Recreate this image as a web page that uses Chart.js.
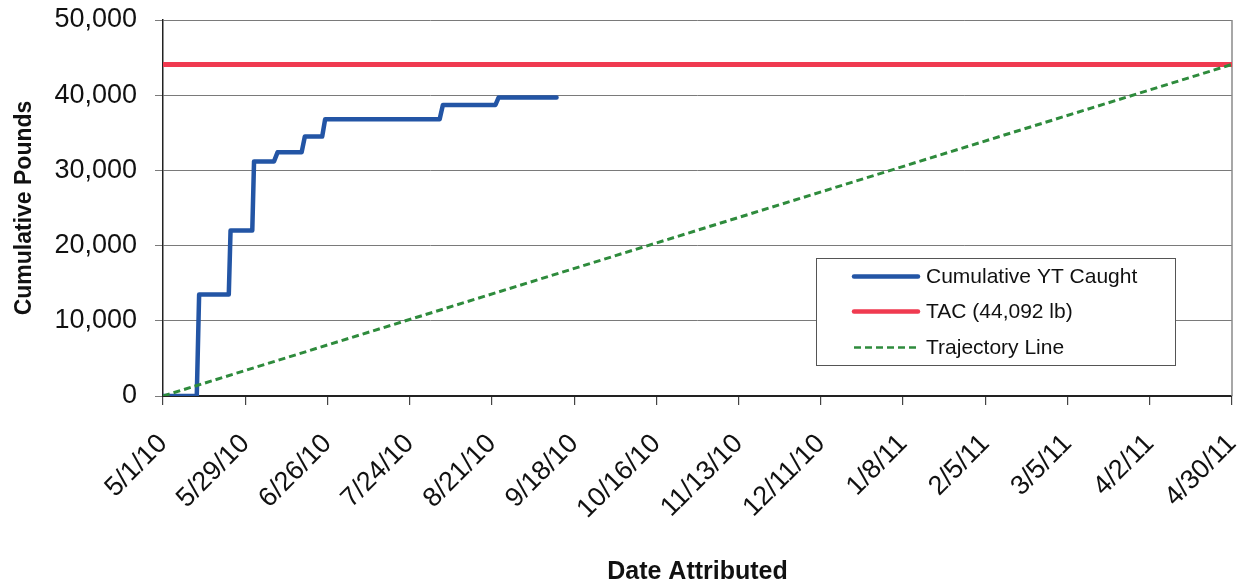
<!DOCTYPE html>
<html>
<head>
<meta charset="utf-8">
<script src="https://cdn.jsdelivr.net/npm/chart.js@4"></script>
<style>
  html, body { margin: 0; padding: 0; background: #fff; }
  #wrap { width: 1241px; height: 581px; }
</style>
</head>
<body>
<div id="wrap"><canvas id="c" width="1241" height="581"></canvas></div>
<script>
// ---- data (days since 5/1/10) ----
const tickDays = [0, 28, 56, 84, 112, 140, 168, 196, 224, 252, 280, 308, 336, 364];
const tickLabels = ['5/1/10', '5/29/10', '6/26/10', '7/24/10', '8/21/10', '9/18/10', '10/16/10',
  '11/13/10', '12/11/10', '1/8/11', '2/5/11', '3/5/11', '4/2/11', '4/30/11'];
const yTicks = [0, 10000, 20000, 30000, 40000, 50000];

const catchDays   = [0, 11.5, 12.3, 22.4, 23.0, 30.4, 31.0, 37.8, 39.0, 47.2, 48.3, 54.2, 55.2, 94.2, 95.3, 113.2, 114.3, 134];
const catchPounds = [0, 0, 13500, 13500, 22000, 22000, 31200, 31200, 32400, 32400, 34500, 34500, 36800, 36800, 38700, 38700, 39700, 39700];

const tacDays = [0, 364];
const tacPounds = [44092, 44092];

const trajDays = [0, 364];
const trajPounds = [0, 44092];

const seriesNames = ['Cumulative YT Caught', 'TAC (44,092 lb)', 'Trajectory Line'];

const FONT = '"Liberation Sans", Arial, sans-serif';
const BLUE = '#2355a5', RED = '#f03a50', GREEN = '#2e8b3c';

const toXY = (xs, ys) => xs.map((x, i) => ({ x: x, y: ys[i] }));

const frameAndLegend = {
  id: 'frameAndLegend',
  beforeDatasetsDraw(chart) {
    const { ctx, chartArea: a } = chart;
    ctx.save();
    ctx.strokeStyle = '#8a8a8a';
    ctx.lineWidth = 1.5;
    ctx.beginPath();
    ctx.moveTo(a.right, a.top);
    ctx.lineTo(a.right, a.bottom);
    ctx.stroke();
    ctx.restore();
  },
  afterDraw(chart) {
    const { ctx, chartArea: a } = chart;
    const bx = a.right - 416, by = a.top + 238, bw = 359, bh = 107;
    ctx.save();
    ctx.fillStyle = '#fff';
    ctx.fillRect(bx, by, bw, bh);
    ctx.strokeStyle = '#555';
    ctx.lineWidth = 1;
    ctx.strokeRect(bx + 0.5, by + 0.5, bw, bh);
    const rows = [18.5, 53.5, 89.5];
    chart.data.datasets.forEach((ds, i) => {
      const y = by + rows[i];
      ctx.beginPath();
      ctx.strokeStyle = ds.borderColor;
      ctx.lineWidth = i === 2 ? 2.5 : 4.5;
      ctx.lineCap = i === 2 ? 'butt' : 'round';
      ctx.setLineDash(ds.borderDash || []);
      ctx.moveTo(bx + 38, y);
      ctx.lineTo(bx + 102, y);
      ctx.stroke();
      ctx.setLineDash([]);
      ctx.fillStyle = '#111';
      ctx.font = '21px ' + FONT;
      ctx.textBaseline = 'middle';
      ctx.textAlign = 'left';
      ctx.fillText(ds.label, bx + 110, y + 1);
    });
    ctx.restore();
  }
};

new Chart(document.getElementById('c'), {
  type: 'line',
  data: {
    datasets: [
      { label: seriesNames[0], data: toXY(catchDays, catchPounds), borderColor: BLUE, borderWidth: 4.5,
        pointRadius: 0, tension: 0, borderJoinStyle: 'round', borderCapStyle: 'round', order: 2 },
      { label: seriesNames[1], data: toXY(tacDays, tacPounds), borderColor: RED, borderWidth: 5,
        pointRadius: 0, tension: 0, order: 3 },
      { label: seriesNames[2], data: toXY(trajDays, trajPounds), borderColor: GREEN, borderWidth: 3,
        borderDash: [7, 4], pointRadius: 0, tension: 0, order: 1 }
    ]
  },
  options: {
    responsive: false,
    animation: false,
    layout: { padding: { top: 20, right: 9, left: 0, bottom: 0 } },
    plugins: { legend: { display: false }, tooltip: { enabled: false } },
    scales: {
      x: {
        type: 'linear', min: 0, max: 364,
        afterBuildTicks: (s) => { s.ticks = tickDays.map(v => ({ value: v })); },
        afterFit: (s) => { s.height = 185; s.paddingLeft = 0; s.paddingRight = 0; },
        ticks: {
          autoSkip: false, maxRotation: 45, minRotation: 45, padding: 23,
          color: '#111', font: { family: FONT, size: 27 },
          callback: (v, i) => tickLabels[i]
        },
        grid: { drawOnChartArea: false, drawTicks: true, tickLength: 9, color: '#444', lineWidth: 1.2 },
        border: { color: '#222', width: 2 },
        title: { display: true, text: 'Date Attributed', color: '#111',
          font: { family: FONT, size: 25, weight: 'bold', lineHeight: 1 }, padding: { top: 0, bottom: -4 } }
      },
      y: {
        min: 0, max: 50000,
        afterBuildTicks: (s) => { s.ticks = yTicks.map(v => ({ value: v })); },
        afterFit: (s) => { s.width = 163; s.paddingTop = 0; s.paddingBottom = 0; },
        ticks: {
          padding: 18, color: '#111', font: { family: FONT, size: 27 },
          callback: (v) => v.toLocaleString('en-US')
        },
        grid: { color: '#7a7a7a', lineWidth: 1, tickLength: 8 },
        border: { color: '#222', width: 1.5 },
        title: { display: true, text: 'Cumulative Pounds', color: '#111',
          font: { family: FONT, size: 23, weight: 'bold', lineHeight: 1 }, padding: { top: 13, bottom: 0 } }
      }
    }
  },
  plugins: [frameAndLegend]
});
</script>
</body>
</html>
